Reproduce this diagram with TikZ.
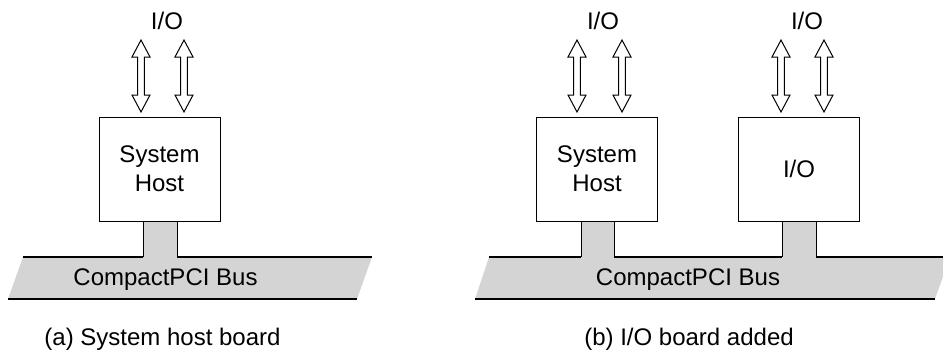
\documentclass[tikz,border=0pt]{standalone}
\usepackage{fontspec}
\setmainfont{Liberation Sans}
\usetikzlibrary{positioning}

\tikzset{
	board/.style={draw,fill=white,minimum width=60.5pt,minimum height=52pt,align=center,inner sep=0pt},
	busfill/.style={fill=black!17},
	busedge/.style={line width=0.7pt},
	ioarrow/.style={draw,fill=white}
}

\begin{document}
\begin{tikzpicture}[x=0.5pt,y=-0.5pt,line width=0.5pt,font=\fontsize{12}{14.5}\selectfont]
	\clip (0,0) rectangle (943,350);
	% (a) system host alone
	\fill[busfill] (23,257) -- (372,257) -- (357,299) -- (8,299) -- cycle;
	\fill[busfill] (143,215) rectangle (177,258);
	\draw[busedge] (23,257) -- (143,257);
	\draw[busedge] (177,257) -- (372,257);
	\draw[busedge] (8,299) -- (357,299);
	\draw (143,257) -- (143,220);
	\draw (177,257) -- (177,220);
	\node[board] (hosta) at (159.5,169) {System\\Host};
	\node (busa) at (165.5,279.5) {CompactPCI Bus};
	\node (ioa) at (167,21) {I/O};
	\node (capa) at (162.5,339) {(a) System host board};
	% (b) I/O board added
	\fill[busfill] (489,257) -- (950,257) -- (935,299) -- (475,299) -- cycle;
	\fill[busfill] (581,215) rectangle (614,258);
	\fill[busfill] (782,215) rectangle (816,258);
	\draw[busedge] (489,257) -- (581,257);
	\draw[busedge] (614,257) -- (782,257);
	\draw[busedge] (816,257) -- (950,257);
	\draw[busedge] (475,299) -- (935,299);
	\draw (581,257) -- (581,220);
	\draw (614,257) -- (614,220);
	\draw (782,257) -- (782,220);
	\draw (816,257) -- (816,220);
	\node[board] (hostb) at (597,169) {System\\Host};
	\node[board] (iob) at (799,169) {I/O};
	\node (busb) at (688,279.5) {CompactPCI Bus};
	\node (iohostb) at (603,21) {I/O};
	\node (ioiob) at (807,21) {I/O};
	\node (capb) at (689,339) {(b) I/O board added};
	% double arrows
	\foreach \x in {141,184,577,622,781,824}
		\draw[ioarrow] (\x,40) -- ++(9,17) -- ++(-5.7,0) -- ++(0,38) -- ++(5.7,0) -- ++(-9,17)
			-- ++(-9,-17) -- ++(5.7,0) -- ++(0,-38) -- ++(-5.7,0) -- cycle;
\end{tikzpicture}
\end{document}
